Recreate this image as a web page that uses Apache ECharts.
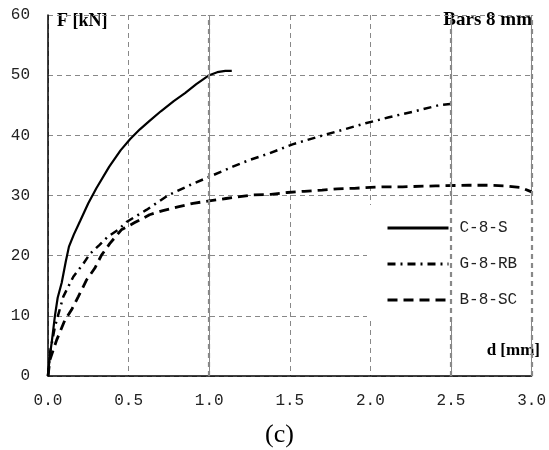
<!DOCTYPE html>
<html><head><meta charset="utf-8">
<script src="https://cdn.jsdelivr.net/npm/echarts@6/dist/echarts.min.js"></script>
<style>html,body{margin:0;padding:0;background:#fff}#c{width:549px;height:450px}</style>
</head><body><div id="c"></div>
<script>
var seriesNames = ['C-8-S', 'G-8-RB', 'B-8-SC'];
var xC8S = [0, 0.01, 0.025, 0.043, 0.06, 0.085, 0.11, 0.13, 0.16, 0.2, 0.25, 0.3, 0.38, 0.45, 0.51, 0.57, 0.63, 0.7, 0.78, 0.85, 0.92, 1.0, 1.05, 1.1, 1.14];
var yC8S = [0, 3, 6, 10, 13, 15.5, 19, 21.5, 23.5, 25.8, 28.7, 31.2, 34.8, 37.5, 39.4, 41, 42.4, 44, 45.7, 47, 48.5, 50, 50.5, 50.7, 50.7];
var xG8RB = [0, 0.012, 0.043, 0.095, 0.157, 0.22, 0.26, 0.32, 0.373, 0.435, 0.487, 0.61, 0.744, 0.878, 1.0, 1.146, 1.25, 1.373, 1.517, 1.68, 1.826, 1.97, 2.115, 2.26, 2.424, 2.496];
var yG8RB = [0, 3.8, 8.2, 13.2, 16.5, 18.7, 20.3, 21.8, 23.2, 24.3, 25.6, 27.6, 30, 31.7, 33.1, 34.8, 35.9, 37, 38.5, 39.8, 40.9, 42, 43, 43.9, 45, 45.2];
var xB8SC = [0, 0.012, 0.054, 0.105, 0.146, 0.188, 0.24, 0.29, 0.332, 0.383, 0.455, 0.538, 0.63, 0.713, 0.806, 0.9, 1.0, 1.105, 1.27, 1.383, 1.486, 1.59, 1.7, 1.795, 1.9, 2.0, 2.095, 2.2, 2.404, 2.61, 2.73, 2.837, 2.93, 3.0];
var yB8SC = [0, 2.7, 6, 9.3, 11, 13.2, 16, 17.9, 20.1, 22, 24.3, 25.5, 26.8, 27.5, 28.1, 28.7, 29.1, 29.5, 30.1, 30.2, 30.5, 30.7, 30.9, 31.1, 31.2, 31.35, 31.45, 31.45, 31.6, 31.7, 31.7, 31.6, 31.35, 30.6];
var heavyGridX = [1.0, 2.5, 3.0];

function zip(xs, ys) { return xs.map(function (x, i) { return [x, ys[i]]; }); }

var chart = echarts.init(document.getElementById('c'));
var tickFont = { fontFamily: 'Liberation Mono', fontSize: 16, color: '#222' };
chart.setOption({
  animation: false,
  backgroundColor: '#fff',
  grid: { left: 48, right: 16, top: 15, bottom: 74 },
  xAxis: {
    type: 'value', min: 0, max: 3, interval: 0.5,
    axisLine: { lineStyle: { color: '#000', width: 1.5 } },
    axisTick: { show: false },
    axisLabel: Object.assign({ margin: 17, formatter: function (v) { return v.toFixed(1); } }, tickFont),
    splitLine: { show: true, lineStyle: { color: '#888', type: [5, 4], width: 1 } }
  },
  yAxis: {
    type: 'value', min: 0, max: 60, interval: 10,
    axisLine: { show: true, lineStyle: { color: '#000', width: 1.5 } },
    axisTick: { show: false },
    axisLabel: Object.assign({ margin: 18 }, tickFont),
    splitLine: { show: true, lineStyle: { color: '#888', type: [5, 4], width: 1 } }
  },
  legend: {
    orient: 'vertical', left: 367, top: 205,
    backgroundColor: '#fff',
    padding: [15, 33, 13, 19],
    itemWidth: 61, itemHeight: 14, itemGap: 20,
    itemStyle: { opacity: 0 },
    lineStyle: { width: 3 },
    textStyle: { fontFamily: 'Liberation Mono', fontSize: 16, color: '#222', padding: [0, 0, 0, 6] },
    data: seriesNames
  },
  graphic: [
    { type: 'text', left: 57, top: 12, style: { text: 'F [kN]', font: 'bold 18px "Liberation Serif"', fill: '#000' } },
    { type: 'text', right: 17, top: 11, style: { text: 'Bars 8 mm', font: 'bold 19px "Liberation Serif"', fill: '#000' } },
    { type: 'text', right: 9, top: 342, style: { text: 'd [mm]', font: 'bold 17px "Liberation Serif"', fill: '#000' } },
    { type: 'text', left: 265, top: 422, style: { text: '(c)', font: '26px "Liberation Serif"', fill: '#000' } }
  ],
  series: [
    {
      name: seriesNames[0], type: 'line', symbol: 'none', data: zip(xC8S, yC8S),
      lineStyle: { color: '#000', width: 2.2, type: 'solid' }, itemStyle: { color: '#000' },
      markLine: {
        silent: true, symbol: 'none', label: { show: false },
        lineStyle: { color: '#888', type: [5, 4], width: 2.2 },
        data: heavyGridX.map(function (v) { return { xAxis: v }; })
      },
      z: 3
    },
    {
      name: seriesNames[1], type: 'line', symbol: 'none', data: zip(xG8RB, yG8RB),
      lineStyle: { color: '#000', width: 2.5, type: [8, 5, 2, 5] }, itemStyle: { color: '#000' }, z: 3
    },
    {
      name: seriesNames[2], type: 'line', symbol: 'none', data: zip(xB8SC, yB8SC),
      lineStyle: { color: '#000', width: 2.8, type: [10, 6] }, itemStyle: { color: '#000' }, z: 3
    }
  ]
});
</script></body></html>
